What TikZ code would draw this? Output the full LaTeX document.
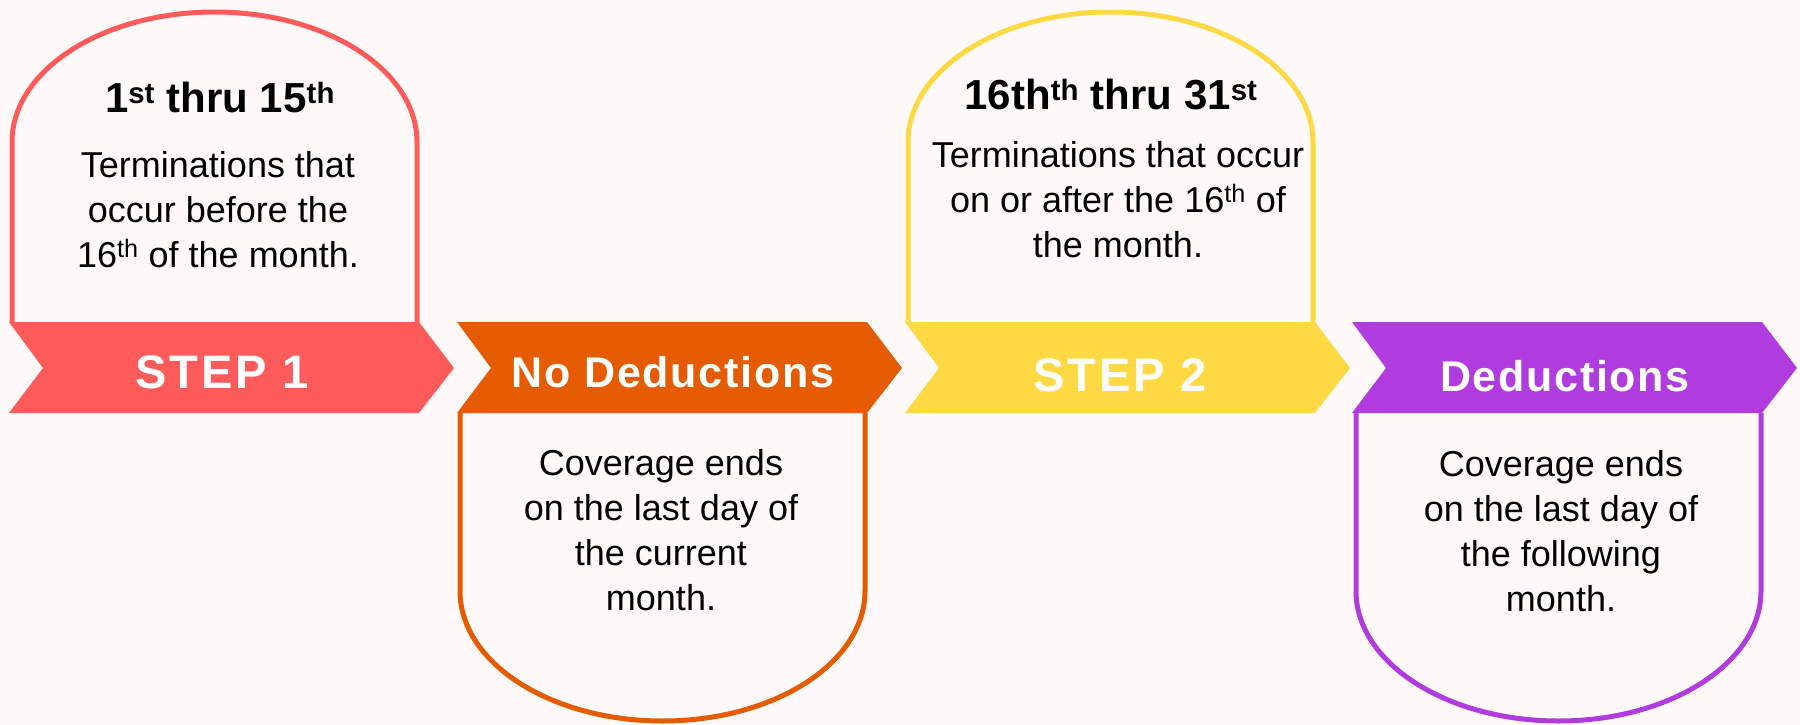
\documentclass[tikz,border=0pt]{standalone}
\usepackage{fontspec}
\setmainfont{Liberation Sans}
\definecolor{bg}{HTML}{FFFAF9}
\definecolor{stepred}{HTML}{FF5B5B}
\definecolor{steporange}{HTML}{E55B00}
\definecolor{stepyellow}{HTML}{FFD944}
\definecolor{steppurple}{HTML}{B03CE0}
\tikzset{
  card/.style={line width=5pt, fill=bg, line join=round},
  bannertext/.style={text=white, inner sep=0pt, anchor=base,
    font=\fontsize{47}{55}\selectfont\bfseries\addfontfeatures{LetterSpace=6}},
  bannerlong/.style={text=white, inner sep=0pt, anchor=base,
    font=\fontsize{43}{52}\selectfont\bfseries\addfontfeatures{LetterSpace=4}},
  bodytext/.style={align=center, inner sep=0pt, anchor=base,
    font=\fontsize{36}{45}\selectfont},
  titletext/.style={inner sep=0pt, anchor=base,
    font=\fontsize{42}{50}\selectfont\bfseries},
}
\begin{document}
\begin{tikzpicture}[x=1pt,y=-1pt]
\fill[bg] (0,0) rectangle (1800,725);
\useasboundingbox (0,0) rectangle (1800,725);

% cards with an arched top, above the banners
\draw[card, draw=stepred] (12,322) -- (12,142)
  arc[start angle=180, end angle=360, x radius=202.5, y radius=130] -- (417,322);
\draw[card, draw=stepyellow] (908,322) -- (908,142)
  arc[start angle=180, end angle=360, x radius=202.5, y radius=130] -- (1313,322);

% cards with a rounded bottom, below the banners
\draw[card, draw=steporange] (460,413) -- (460,591)
  arc[start angle=180, end angle=0, x radius=202.5, y radius=130] -- (865,413);
\draw[card, draw=steppurple] (1356,413) -- (1356,591)
  arc[start angle=180, end angle=0, x radius=202.5, y radius=130] -- (1761,413);

% chevron banners
\foreach \L/\col in {9/stepred, 457/steporange, 905/stepyellow, 1352/steppurple}{
  \fill[\col] (\L,322) -- ++(410,0) -- ++(35,46) -- ++(-35,45) -- ++(-410,0)
    -- ++(34,-45) -- cycle;
}

\node[bannertext] (b1) at (222,388) {STEP 1};
\node[bannerlong] (b2) at (673,387) {No Deductions};
\node[bannertext] (b3) at (1120,391) {STEP 2};
\node[bannerlong] (b4) at (1565,391) {Deductions};

% card texts (multi-line texts are placed by the baseline of their last line)
\node[titletext] (t1) at (220,113) {1\textsuperscript{st} thru 15\textsuperscript{th}};
\node[bodytext] (d1) at (218,267) {Terminations that\\occur before the\\16\textsuperscript{th} of the month.};

\node[bodytext] (d2) at (661,610) {Coverage ends\\on the last day of\\the current\\month.};

\node[titletext] (t3) at (1111,110) {16th\textsuperscript{th} thru 31\textsuperscript{st}};
\node[bodytext] (d3) at (1118,257) {Terminations that occur\\on or after the 16\textsuperscript{th} of\\the month.};

\node[bodytext] (d4) at (1561,611) {Coverage ends\\on the last day of\\the following\\month.};
\end{tikzpicture}
\end{document}
